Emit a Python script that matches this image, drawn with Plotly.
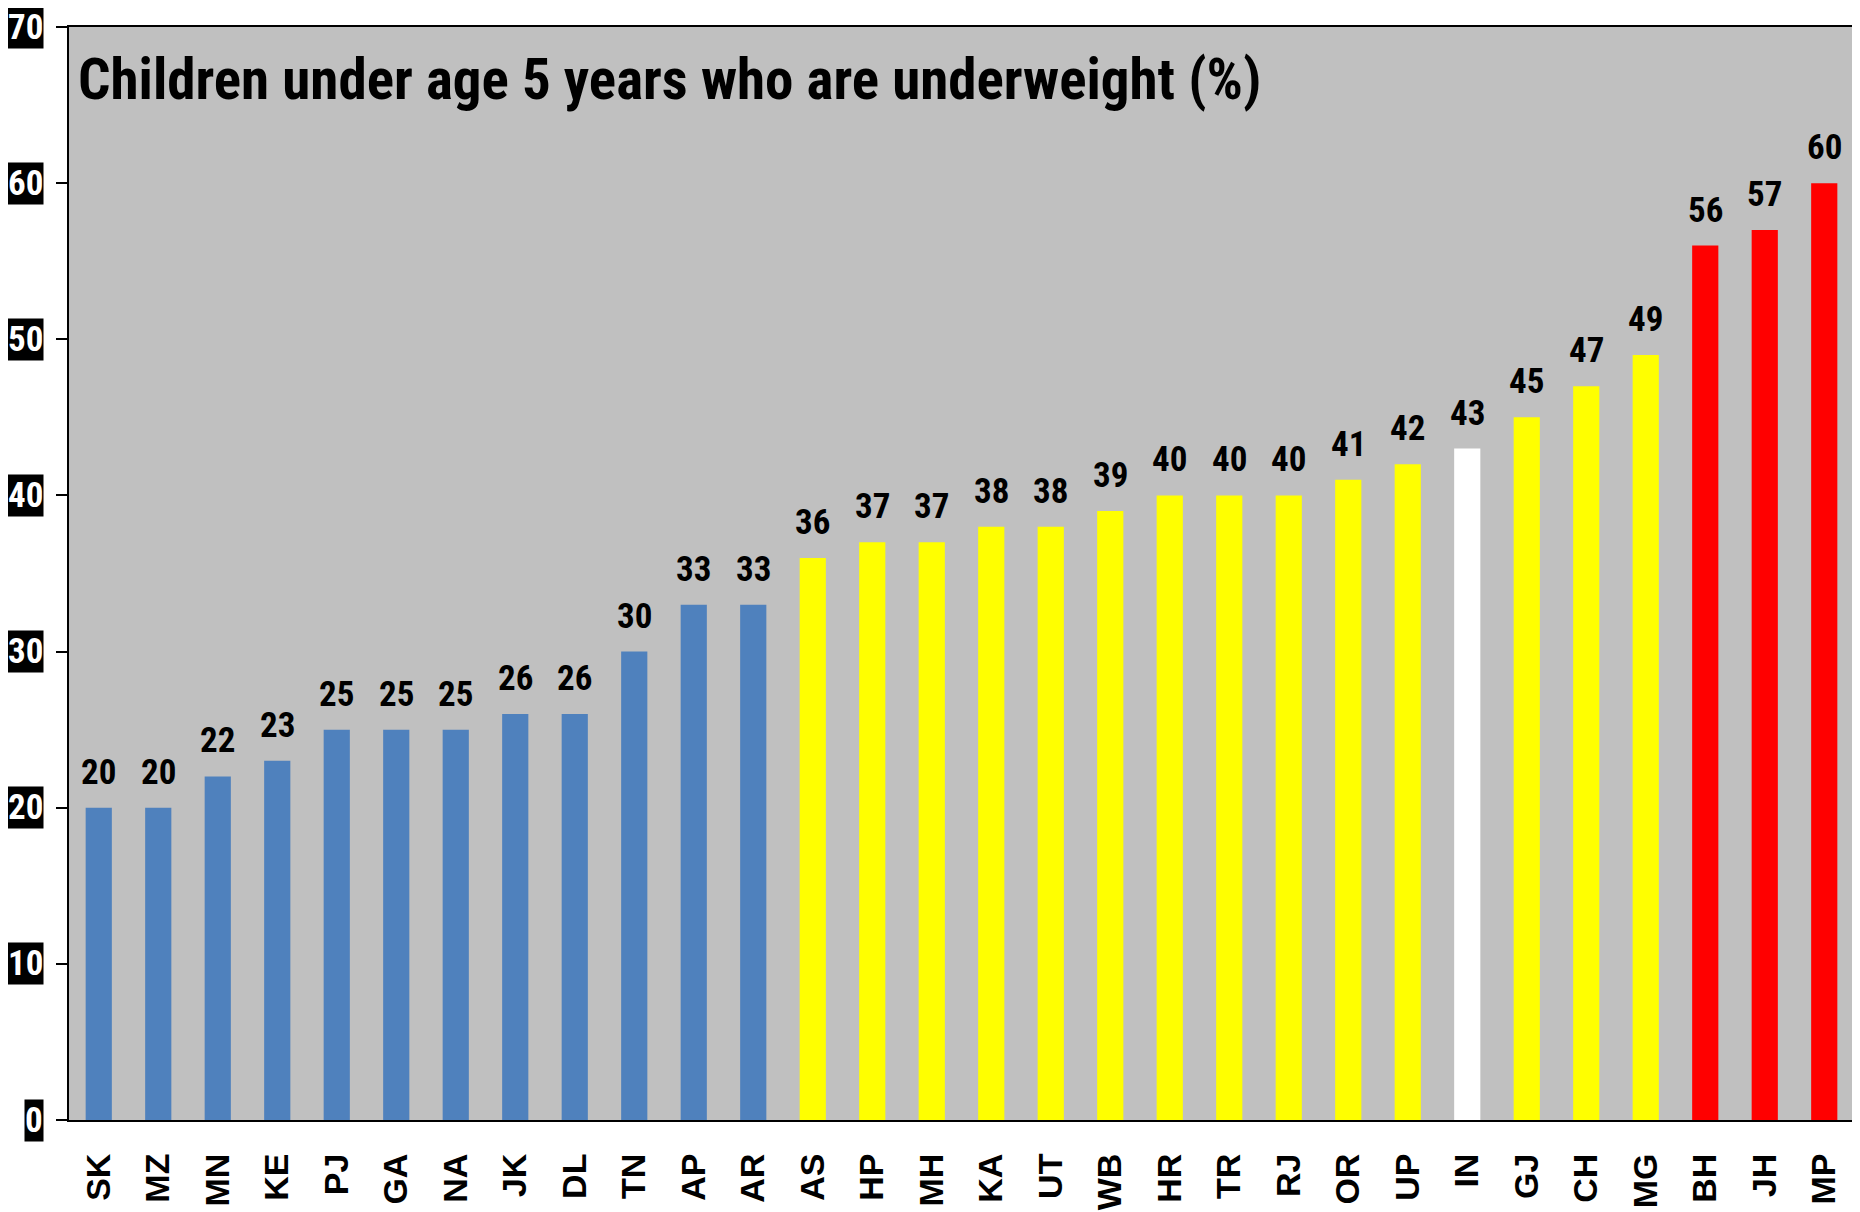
import plotly.graph_objects as go

states = ["SK", "MZ", "MN", "KE", "PJ", "GA", "NA", "JK", "DL", "TN", "AP", "AR",
          "AS", "HP", "MH", "KA", "UT", "WB", "HR", "TR", "RJ", "OR", "UP", "IN",
          "GJ", "CH", "MG", "BH", "JH", "MP"]
underweight = [20, 20, 22, 23, 25, 25, 25, 26, 26, 30, 33, 33,
               36, 37, 37, 38, 38, 39, 40, 40, 40, 41, 42, 43,
               45, 47, 49, 56, 57, 60]
group = ["low"] * 12 + ["mid"] * 11 + ["india"] + ["mid"] * 3 + ["high"] * 3
y_ticks = [0, 10, 20, 30, 40, 50, 60, 70]
title_text = "Children under age 5 years who are underweight (%)"

palette = {"low": "#4F81BD", "mid": "#FFFF00", "india": "#FFFFFF", "high": "#FF0000"}
NARROW = "Roboto Condensed, DejaVu Sans Condensed, Liberation Sans Narrow, Liberation Sans, sans-serif"
WIDE = "Liberation Sans, Arial, sans-serif"

fig = go.Figure(go.Bar(
    x=states, y=underweight,
    marker=dict(color=[palette[g] for g in group], line=dict(width=0)),
    hoverinfo="x+y",
))

annotations = []
for s, v in zip(states, underweight):
    annotations.append(dict(
        x=s, y=v, xref="x", yref="y", text=f"<b>{v}</b>", showarrow=False,
        yanchor="bottom", xanchor="center", yshift=13,
        font=dict(family=NARROW, size=35, color="black"),
    ))
for t in y_ticks:
    annotations.append(dict(
        x=0, y=t, xref="paper", yref="y", text=f"<b>{t}</b>", showarrow=False,
        xanchor="right", yanchor="middle", xshift=-25,
        bgcolor="black", borderpad=0,
        font=dict(family=NARROW, size=35, color="white"),
    ))
annotations.append(dict(
    x=0, y=1, xref="paper", yref="paper", text=f"<b>{title_text}</b>",
    showarrow=False, xanchor="left", yanchor="top", xshift=7, yshift=-17,
    font=dict(family=NARROW, size=57, color="black"),
))

fig.update_layout(
    width=1852, height=1204,
    margin=dict(l=61, r=6, t=19, b=92, autoexpand=False),
    paper_bgcolor="white", plot_bgcolor="#C0C0C0",
    bargap=0.56, showlegend=False,
    annotations=annotations,
    xaxis=dict(
        type="category", showline=True, linecolor="black", linewidth=2, mirror=True,
        showgrid=False, zeroline=False, ticks="", tickangle=-90,
        tickfont=dict(family=WIDE, size=34, color="black", weight="bold"),
        ticklabelstandoff=18, automargin=False,
    ),
    yaxis=dict(
        range=[0, 70], tickvals=y_ticks, showticklabels=False,
        showline=True, linecolor="black", linewidth=2, mirror=True,
        showgrid=False, zeroline=False,
        ticks="outside", ticklen=11, tickwidth=2, tickcolor="black",
        automargin=False,
    ),
)

fig.write_html("out.html")
